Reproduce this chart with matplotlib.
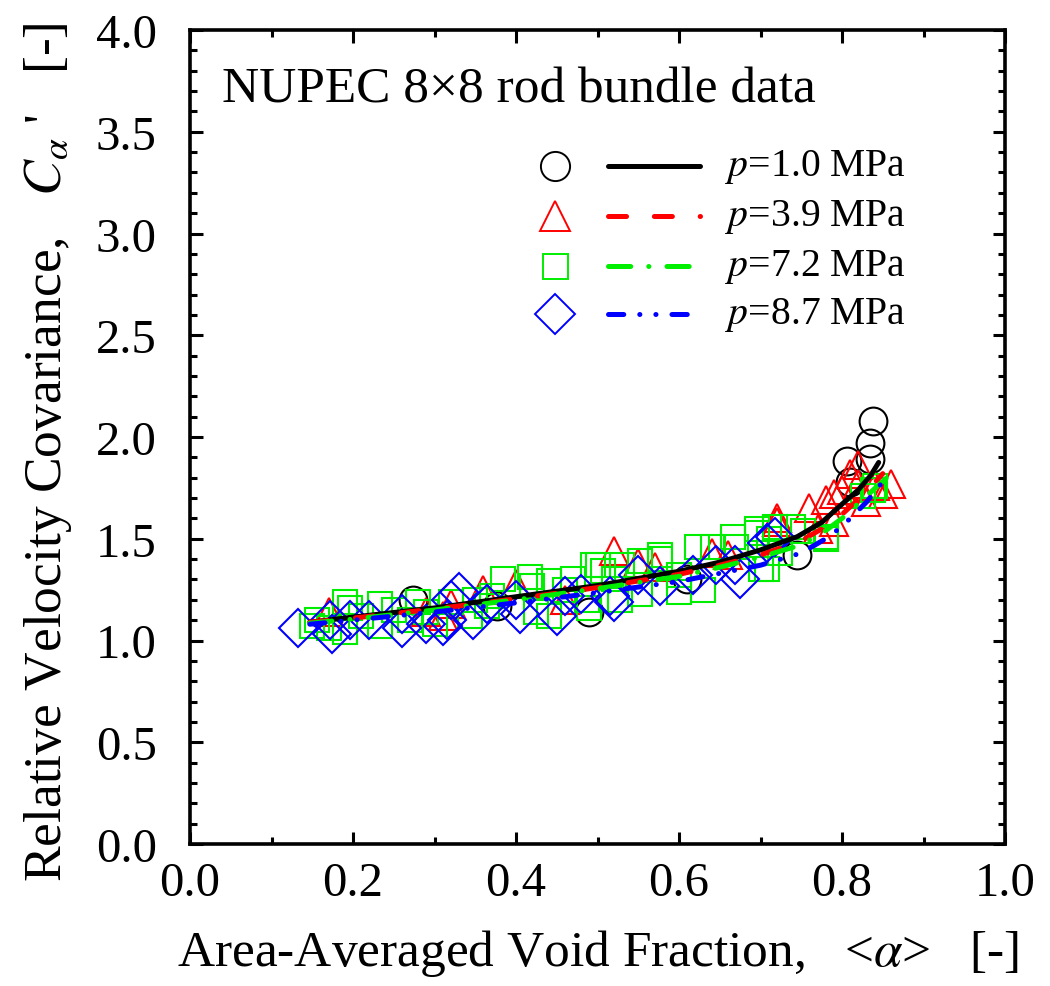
import numpy as np
import matplotlib
matplotlib.use('Agg')
import matplotlib.pyplot as plt
from matplotlib.ticker import MultipleLocator

plt.rcParams['font.family'] = ['Liberation Serif', 'DejaVu Serif']
plt.rcParams['mathtext.fontset'] = 'stix'
plt.rcParams['lines.scale_dashes'] = False

# measured data (void fraction, relative velocity covariance)
x_10 = [0.274, 0.377, 0.49, 0.61, 0.745, 0.806, 0.81, 0.834, 0.834, 0.838]
y_10 = [1.20, 1.17, 1.14, 1.30, 1.42, 1.88, 1.78, 1.97, 1.89, 2.08]

x_39 = [0.17, 0.29, 0.31, 0.32, 0.36, 0.40, 0.46, 0.52, 0.55, 0.57, 0.64, 0.66,
        0.72, 0.72, 0.76, 0.78, 0.79, 0.80, 0.81, 0.82, 0.82, 0.83, 0.84, 0.85,
        0.86, 0.77, 0.79]
y_39 = [1.14, 1.14, 1.12, 1.18, 1.25, 1.28, 1.20, 1.44, 1.38, 1.36, 1.43, 1.42,
        1.58, 1.60, 1.65, 1.69, 1.72, 1.74, 1.82, 1.77, 1.86, 1.68, 1.76, 1.72,
        1.77, 1.55, 1.58]

x_72 = [0.15, 0.156, 0.17, 0.19, 0.196, 0.19, 0.21, 0.233, 0.233, 0.25, 0.28,
        0.29, 0.30, 0.32, 0.343, 0.364, 0.37, 0.384, 0.417, 0.42, 0.425, 0.44,
        0.44, 0.47, 0.49, 0.487, 0.495, 0.50, 0.507, 0.52, 0.528, 0.53, 0.552,
        0.552, 0.577, 0.577, 0.60, 0.622, 0.63, 0.642, 0.666, 0.67, 0.696,
        0.696, 0.70, 0.708, 0.71, 0.718, 0.724, 0.74, 0.752, 0.78, 0.78, 0.826,
        0.838, 0.84, 0.60, 0.46, 0.35, 0.27]
y_72 = [1.07, 1.10, 1.06, 1.19, 1.16, 1.04, 1.12, 1.18, 1.07, 1.15, 1.19,
        1.14, 1.08, 1.19, 1.12, 1.17, 1.22, 1.30, 1.31, 1.27, 1.14, 1.29,
        1.12, 1.30, 1.16, 1.20, 1.37, 1.37, 1.34, 1.30, 1.20, 1.37, 1.39,
        1.23, 1.42, 1.40, 1.24, 1.46, 1.25, 1.46, 1.51, 1.46, 1.55,
        1.53, 1.35, 1.35, 1.50, 1.56, 1.43, 1.56, 1.54, 1.51, 1.50, 1.71,
        1.74, 1.76, 1.32, 1.25, 1.20, 1.10]

x_87 = [0.133, 0.172, 0.174, 0.196, 0.22, 0.26, 0.26, 0.29, 0.315, 0.31, 0.32,
        0.33, 0.347, 0.364, 0.40, 0.405, 0.45, 0.46, 0.48, 0.515, 0.52, 0.55,
        0.577, 0.617, 0.646, 0.669, 0.675, 0.708, 0.718]
y_87 = [1.06, 1.10, 1.03, 1.10, 1.10, 1.13, 1.06, 1.08, 1.10, 1.07, 1.20,
        1.24, 1.10, 1.18, 1.20, 1.13, 1.12, 1.22, 1.23, 1.22, 1.19, 1.32,
        1.27, 1.32, 1.37, 1.37, 1.30, 1.48, 1.51]

# correlation curves
cx_10 = [0.147, 0.2, 0.3, 0.4, 0.5, 0.6, 0.65, 0.7, 0.745, 0.775, 0.8, 0.82, 0.835, 0.845]
cy_10 = [1.09, 1.115, 1.16, 1.215, 1.27, 1.34, 1.385, 1.445, 1.51, 1.58, 1.67, 1.74, 1.81, 1.875]
cx_39 = [0.147, 0.2, 0.3, 0.4, 0.5, 0.6, 0.65, 0.7, 0.75, 0.78, 0.8, 0.83, 0.85]
cy_39 = [1.09, 1.11, 1.155, 1.205, 1.26, 1.325, 1.37, 1.42, 1.49, 1.56, 1.62, 1.73, 1.82]
cx_72 = [0.147, 0.2, 0.3, 0.4, 0.5, 0.6, 0.65, 0.7, 0.75, 0.78, 0.8, 0.83, 0.855]
cy_72 = [1.085, 1.105, 1.15, 1.2, 1.255, 1.315, 1.36, 1.41, 1.47, 1.54, 1.60, 1.71, 1.80]
cx_87 = [0.147, 0.2, 0.3, 0.4, 0.5, 0.6, 0.65, 0.7, 0.75, 0.78, 0.8, 0.83, 0.85]
cy_87 = [1.08, 1.10, 1.14, 1.185, 1.235, 1.29, 1.33, 1.37, 1.43, 1.50, 1.56, 1.68, 1.78]

labels = ['$p$=1.0 MPa', '$p$=3.9 MPa', '$p$=7.2 MPa', '$p$=8.7 MPa']
colors = ['black', 'red', '#00ee00', 'blue']
markers = ['o', '^', 's', 'D']
msizes = [20, 20, 17, 19]
dashes = [None, (13, 20), (16, 13, 0.1, 13), (11, 11.5, 0.1, 11.5, 0.1, 11.5)]

xs = [x_10, x_39, x_72, x_87]
ys = [y_10, y_39, y_72, y_87]
cxs = [cx_10, cx_39, cx_72, cx_87]
cys = [cy_10, cy_39, cy_72, cy_87]

fig = plt.figure(figsize=(10.5, 9.87), dpi=100)
ax = fig.add_axes([190/1050, 1-845/987, 815/1050, 814/987])

for x, y, c, m, ms in zip(xs, ys, colors, markers, msizes):
    ax.plot(x, y, ls='none', marker=m, ms=ms, mfc='none', mec=c, mew=1.5)

for cx, cy, c, d in zip(cxs, cys, colors, dashes):
    ln, = ax.plot(cx, cy, color=c, lw=3.6, solid_capstyle='round', dash_capstyle='round')
    if d is not None:
        ln.set_dashes(d)

# legend drawn by hand
rows = [0.833, 0.771, 0.710, 0.651]
for r, lab, c, m, ms, d in zip(rows, labels, colors, markers, msizes, dashes):
    ax.plot([0.448], [r], transform=ax.transAxes, ls='none', marker=m, ms=ms + 1,
            mfc='none', mec=c, mew=1.4, clip_on=False)
    ln, = ax.plot([0.513, 0.626], [r, r], transform=ax.transAxes, color=c, lw=3.6,
                  solid_capstyle='round', dash_capstyle='round')
    if d is not None:
        ln.set_dashes(d)
    ax.text(0.656, r, lab, transform=ax.transAxes, fontsize=28.5, va='center', ha='left')

ax.text(0.039, 0.927, 'NUPEC 8×8 rod bundle data', transform=ax.transAxes,
        fontsize=37, va='center', ha='left')

ax.set_xlim(0, 1.0)
ax.set_ylim(0, 4.0)
ax.xaxis.set_major_locator(MultipleLocator(0.2))
ax.xaxis.set_minor_locator(MultipleLocator(0.1))
ax.yaxis.set_major_locator(MultipleLocator(0.5))
ax.yaxis.set_minor_locator(MultipleLocator(0.1))
ax.xaxis.set_major_formatter(matplotlib.ticker.FormatStrFormatter('%.1f'))
ax.yaxis.set_major_formatter(matplotlib.ticker.FormatStrFormatter('%.1f'))
ax.tick_params(which='both', direction='in', top=True, right=True, width=2.2)
ax.tick_params(which='major', length=9, labelsize=35)
ax.tick_params(axis='x', which='major', pad=12)
ax.tick_params(axis='y', which='major', pad=24)
ax.tick_params(which='minor', length=5)
for s in ax.spines.values():
    s.set_linewidth(2.6)

ax.set_xlabel(r'Area-Averaged Void Fraction,   <$\alpha$>   [-]', fontsize=37, labelpad=16)
ax.set_ylabel(r"Relative Velocity Covariance,   $C_{\alpha}$ '   [-]", fontsize=38.5)
ax.yaxis.set_label_coords(-0.142, 0.483)

fig.savefig('out.png', dpi=100)
